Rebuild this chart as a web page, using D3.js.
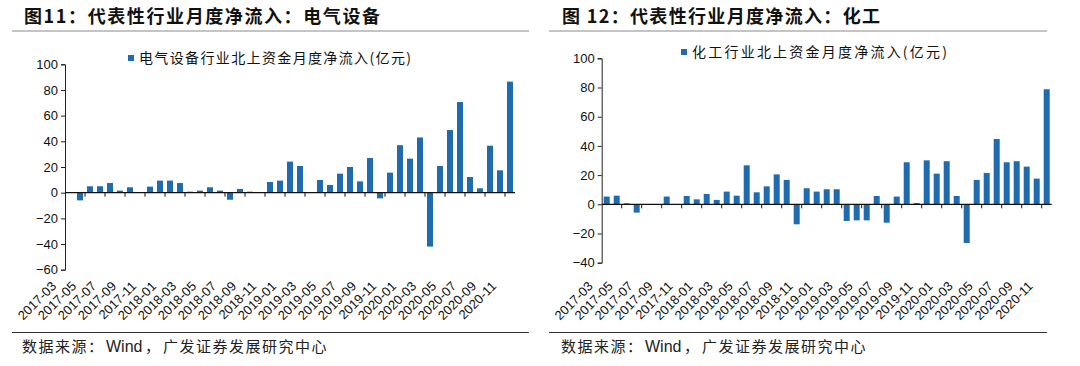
<!DOCTYPE html>
<html>
<head>
<meta charset="utf-8">
<script src="https://cdn.jsdelivr.net/npm/d3@7"></script>
<style>
  body { margin: 0; background: white; }
  text { font-family: "Liberation Sans", Arial, sans-serif; }
  .cjk { font-family: "Noto Sans CJK SC", sans-serif; }
</style>
</head>
<body>
<div id="chart"></div>
<script>
const months = [
  "2017-03", "2017-04", "2017-05", "2017-06", "2017-07", "2017-08", "2017-09", "2017-10", "2017-11", "2017-12",
  "2018-01", "2018-02", "2018-03", "2018-04", "2018-05", "2018-06", "2018-07", "2018-08", "2018-09", "2018-10",
  "2018-11", "2018-12", "2019-01", "2019-02", "2019-03", "2019-04", "2019-05", "2019-06", "2019-07", "2019-08",
  "2019-09", "2019-10", "2019-11", "2019-12", "2020-01", "2020-02", "2020-03", "2020-04", "2020-05", "2020-06",
  "2020-07", "2020-08", "2020-09", "2020-10", "2020-11"
];

// 电气设备 北上资金月度净流入 (亿元)
const elecFlow = [
  0, -6, 5, 5, 7.5, 1.6, 4.2, 0, 4.7, 9.4,
  9.4, 7.5, 0.8, 1.6, 4.2, 1.6, -5.5, 2.9, 0.8, 0,
  8.3, 9.4, 24.2, 20.8, 0, 9.9, 6, 14.8, 20, 8.8,
  27, -4.4, 15.6, 37, 26.5, 43, -42, 20.8, 48.8, 70.6,
  12.2, 3.4, 36.6, 17.4, 86.5
];

// 化工 北上资金月度净流入 (亿元)
const chemFlow = [
  5.3, 5.9, 0.7, -5.7, 0, 0, 5.3, 0, 5.7, 3.4,
  7.1, 3, 8.7, 5.9, 26.7, 8.2, 12.3, 20.5, 16.7, -13.7,
  11, 8.7, 10.3, 10.3, -11.4, -11, -11, 5.7, -12.6, 5.3,
  28.8, 0.9, 30.1, 21, 29.5, 5.7, -26.5, 16.7, 21.5, 44.7,
  28.8, 29.5, 25.8, 17.6, 78.8
];

const elecTicks = [100, 80, 60, 40, 20, 0, -20, -40, -60];
const chemTicks = [100, 80, 60, 40, 20, 0, -20, -40];

const w = 1080;
const h = 366;
const barColor = "#1f6bae";

const svg = d3.select("#chart")
  .append("svg")
  .attr("width", w)
  .attr("height", h);

function drawPanel(p) {
  const xScale = d3.scaleBand()
    .domain(months)
    .range([p.left, p.left + 450])
    .paddingInner(0.4)
    .paddingOuter(0.2);
  const bw = xScale.bandwidth();
  const step = xScale.step();

  const yScale = d3.scaleLinear()
    .domain([d3.min(p.ticks), d3.max(p.ticks)])
    .range([p.bottom, p.top]);

  // title + rules
  svg.append("text")
    .attr("class", "cjk")
    .attr("x", p.titleX)
    .attr("y", 23)
    .attr("textLength", p.titleLen)
    .attr("lengthAdjust", "spacing")
    .style("font-size", "18px")
    .style("font-weight", "700")
    .style("fill", "#111")
    .text(p.title);

  svg.append("line")
    .attr("x1", p.ruleX1).attr("x2", p.ruleX2)
    .attr("y1", 31).attr("y2", 31)
    .attr("stroke", "#8a8a8a")
    .attr("stroke-width", 1.2);

  svg.append("line")
    .attr("x1", p.ruleX1).attr("x2", p.ruleX2)
    .attr("y1", 332.5).attr("y2", 332.5)
    .attr("stroke", "#333")
    .attr("stroke-width", 1.2);

  // source note: CJK parts spaced, "Wind" plain
  const src = svg.append("text")
    .attr("y", 352)
    .style("font-size", "15px")
    .style("fill", "#222");
  src.append("tspan")
    .attr("class", "cjk")
    .attr("x", p.srcX)
    .style("letter-spacing", "1.5px")
    .text("数据来源：");
  src.append("tspan")
    .attr("x", p.srcX + 84)
    .style("font-size", "16px")
    .text("Wind");
  src.append("tspan")
    .attr("class", "cjk")
    .attr("x", p.srcX + 123)
    .text("，");
  src.append("tspan")
    .attr("class", "cjk")
    .attr("x", p.srcX + 141)
    .style("letter-spacing", "1.5px")
    .text("广发证券发展研究中心");

  // legend
  svg.append("rect")
    .attr("x", p.legX)
    .attr("y", p.legY - 3)
    .attr("width", 6)
    .attr("height", 6)
    .attr("fill", barColor);

  svg.append("text")
    .attr("class", "cjk")
    .attr("x", p.legX + 11)
    .attr("y", p.legY + 5)
    .attr("textLength", p.legLen)
    .attr("lengthAdjust", "spacing")
    .style("font-size", "14px")
    .style("fill", "#111")
    .text(p.legend);

  // bars
  svg.append("g")
    .selectAll("rect")
    .data(p.values)
    .enter()
    .append("rect")
    .attr("x", (d, i) => xScale(months[i]))
    .attr("y", d => yScale(Math.max(0, d)))
    .attr("width", bw)
    .attr("height", d => Math.abs(yScale(d) - yScale(0)))
    .attr("fill", barColor);

  // y axis
  const yAxis = d3.axisLeft(yScale)
    .tickValues(p.ticks)
    .tickSize(4)
    .tickPadding(3)
    .tickSizeOuter(4);

  const gy = svg.append("g")
    .attr("transform", "translate(" + p.left + ",0)")
    .call(yAxis);
  gy.selectAll("path, line").attr("stroke", "#222");
  gy.selectAll("text")
    .style("font-size", "13px")
    .style("font-family", "Liberation Sans, Arial, sans-serif")
    .style("fill", "#111");

  // zero line with ticks every 2 months
  svg.append("line")
    .attr("x1", p.left).attr("x2", p.left + 450)
    .attr("y1", yScale(0)).attr("y2", yScale(0))
    .attr("stroke", "#111")
    .attr("stroke-width", 1.2);

  const tickMonths = months.filter((m, i) => i % 2 === 0 && i > 0);
  svg.append("g")
    .selectAll("line")
    .data(tickMonths)
    .enter()
    .append("line")
    .attr("x1", d => xScale(d) + bw / 2 - step / 2)
    .attr("x2", d => xScale(d) + bw / 2 - step / 2)
    .attr("y1", yScale(0))
    .attr("y2", yScale(0) + 4)
    .attr("stroke", "#111");

  // rotated month labels
  const labelMonths = months.filter((m, i) => i % 2 === 0);
  svg.append("g")
    .selectAll("text")
    .data(labelMonths)
    .enter()
    .append("text")
    .attr("transform", d => "translate(" + (xScale(d) + bw / 2 - 13) + ",287) rotate(-45)")
    .attr("text-anchor", "end")
    .style("font-size", "13px")
    .style("fill", "#111")
    .text(d => d);
}

drawPanel({
  title: "图11：代表性行业月度净流入：电气设备",
  titleX: 24,
  titleLen: 356,
  ruleX1: 12,
  ruleX2: 529,
  srcX: 22,
  legend: "电气设备行业北上资金月度净流入(亿元)",
  legX: 128,
  legY: 58,
  legLen: 272,
  values: elecFlow,
  ticks: elecTicks,
  left: 65,
  top: 64.3,
  bottom: 269.7
});

drawPanel({
  title: "图 12：代表性行业月度净流入：化工",
  titleX: 562,
  titleLen: 318,
  ruleX1: 549,
  ruleX2: 1047,
  srcX: 561,
  legend: "化工行业北上资金月度净流入(亿元)",
  legX: 681,
  legY: 52,
  legLen: 255,
  values: chemFlow,
  ticks: chemTicks,
  left: 601.7,
  top: 58.3,
  bottom: 262.7
});
</script>
</body>
</html>
